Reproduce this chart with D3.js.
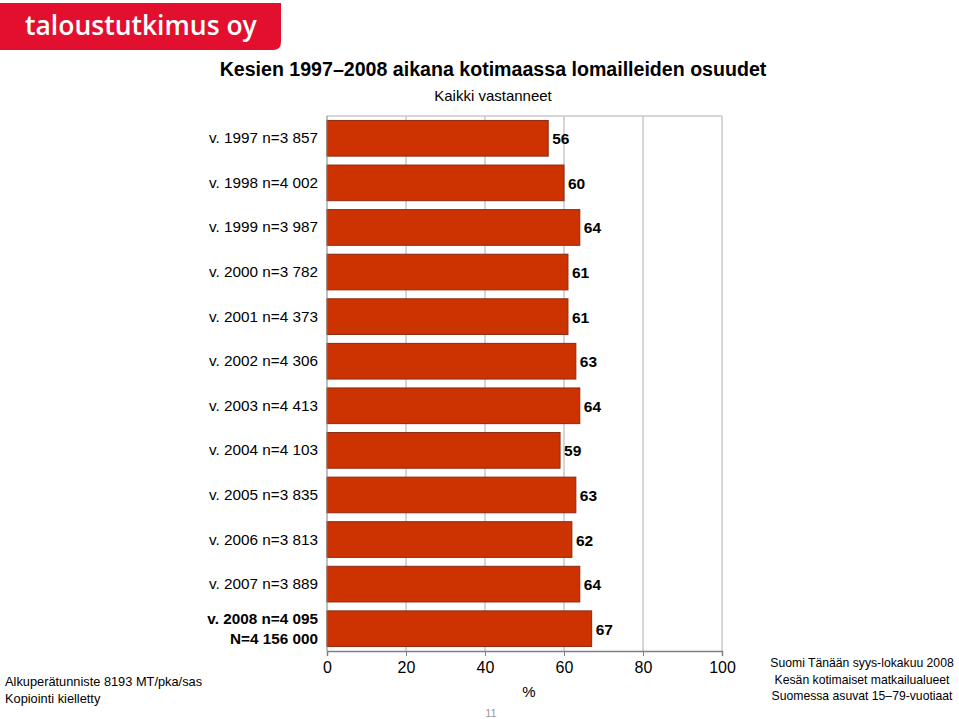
<!DOCTYPE html>
<html>
<head>
<meta charset="utf-8">
<script src="https://cdn.jsdelivr.net/npm/d3@7"></script>
<style>
  body { margin: 0; background: #fff; }
  svg { display: block; font-family: "Liberation Sans", Arial, sans-serif; }
</style>
</head>
<body>
<svg width="959" height="719"></svg>
<script>
// data
const categories = [
  "v. 1997 n=3 857", "v. 1998 n=4 002", "v. 1999 n=3 987", "v. 2000 n=3 782",
  "v. 2001 n=4 373", "v. 2002 n=4 306", "v. 2003 n=4 413", "v. 2004 n=4 103",
  "v. 2005 n=3 835", "v. 2006 n=3 813", "v. 2007 n=3 889", "v. 2008 n=4 095|N=4 156 000"
];
const shares = [56, 60, 64, 61, 61, 63, 64, 59, 63, 62, 64, 67];
const xTicks = [0, 20, 40, 60, 80, 100];

const svg = d3.select("svg");

// logo
svg.append("path")
  .attr("d", "M0,3 H281 V42 Q281,50 273,50 H0 Z")
  .attr("fill", "#e2102e");
svg.append("text")
  .attr("x", 25).attr("y", 35)
  .attr("fill", "#fff")
  .style("font-family", "'Open Sans', 'DejaVu Sans', sans-serif")
  .style("font-size", "26.5px")
  .style("font-weight", "600")
  .text("taloustutkimus oy");

// titles
svg.append("text")
  .attr("x", 493).attr("y", 76)
  .attr("text-anchor", "middle")
  .style("font-size", "19.6px").style("font-weight", "bold")
  .text("Kesien 1997\u20132008 aikana kotimaassa lomailleiden osuudet");
svg.append("text")
  .attr("x", 493).attr("y", 101)
  .attr("text-anchor", "middle")
  .style("font-size", "15px")
  .text("Kaikki vastanneet");

const margin = { top: 116, left: 327, right: 722, bottom: 651 };

const x = d3.scaleLinear().domain([0, 100]).range([margin.left, margin.right]);
const y = d3.scaleBand().domain(categories).range([margin.top, margin.bottom]).paddingInner(0.2).paddingOuter(0.1);

// grid
svg.append("g")
  .selectAll("line")
  .data(xTicks.slice(1))
  .join("line")
  .attr("x1", d => x(d)).attr("x2", d => x(d))
  .attr("y1", margin.top).attr("y2", margin.bottom)
  .attr("stroke", "#c8c8c8").attr("stroke-width", 1.5);
svg.append("line")
  .attr("x1", margin.left).attr("x2", margin.right)
  .attr("y1", margin.top).attr("y2", margin.top)
  .attr("stroke", "#c8c8c8").attr("stroke-width", 1.5);

// bars
svg.append("g")
  .selectAll("rect")
  .data(shares)
  .join("rect")
  .attr("x", x(0))
  .attr("y", (d, i) => y(categories[i]))
  .attr("width", d => x(d) - x(0))
  .attr("height", y.bandwidth())
  .attr("fill", "#cc3300")
  .attr("stroke", "#8a2a12")
  .attr("stroke-width", 1);

// value labels
svg.append("g")
  .selectAll("text")
  .data(shares)
  .join("text")
  .attr("x", d => x(d) + 4)
  .attr("y", (d, i) => y(categories[i]) + y.bandwidth() / 2 + 6)
  .style("font-size", "15.5px").style("font-weight", "bold")
  .text(d => d);

// category labels
categories.forEach((c, i) => {
  const lines = c.split("|");
  const last = i === categories.length - 1;
  const t = svg.append("text")
    .attr("text-anchor", "end")
    .style("font-size", "15.3px")
    .style("font-weight", last ? "bold" : "normal");
  const cy = y(c) + y.bandwidth() / 2 + 5 - (lines.length - 1) * 9.5;
  lines.forEach((l, j) => {
    t.append("tspan").attr("x", 318).attr("y", cy + j * 20).text(l);
  });
});

// x axis
const xAxis = svg.append("g")
  .attr("transform", `translate(0,${margin.bottom})`)
  .call(d3.axisBottom(x).tickValues(xTicks).tickSize(5).tickPadding(6));
xAxis.select(".domain").attr("stroke", "#808080").attr("stroke-width", 1.5);
xAxis.selectAll(".tick line").attr("stroke", "#808080");
xAxis.selectAll(".tick text").style("font-size", "16px").style("font-family", "'Liberation Sans', Arial, sans-serif").attr("fill", "#000");

// left axis line
svg.append("line")
  .attr("x1", margin.left).attr("x2", margin.left)
  .attr("y1", margin.top).attr("y2", margin.bottom)
  .attr("stroke", "#808080").attr("stroke-width", 1);

svg.append("text")
  .attr("x", 529).attr("y", 697)
  .attr("text-anchor", "middle")
  .style("font-size", "15px")
  .text("%");

svg.append("text")
  .attr("x", 491).attr("y", 717)
  .attr("text-anchor", "middle")
  .attr("fill", "#999")
  .style("font-size", "11px")
  .text("11");

// footer notes
const leftNotes = ["Alkuper\u00e4tunniste 8193 MT/pka/sas", "Kopiointi kielletty"];
svg.append("g").selectAll("text").data(leftNotes).join("text")
  .attr("x", 5).attr("y", (d, i) => 686 + i * 17)
  .style("font-size", "12.8px")
  .text(d => d);

const rightNotes = ["Suomi T\u00e4n\u00e4\u00e4n syys-lokakuu 2008", "Kes\u00e4n kotimaiset matkailualueet", "Suomessa asuvat 15\u201379-vuotiaat"];
svg.append("g").selectAll("text").data(rightNotes).join("text")
  .attr("x", 862).attr("y", (d, i) => 667 + i * 16.5)
  .attr("text-anchor", "middle")
  .style("font-size", "12.2px")
  .text(d => d);
</script>
</body>
</html>
